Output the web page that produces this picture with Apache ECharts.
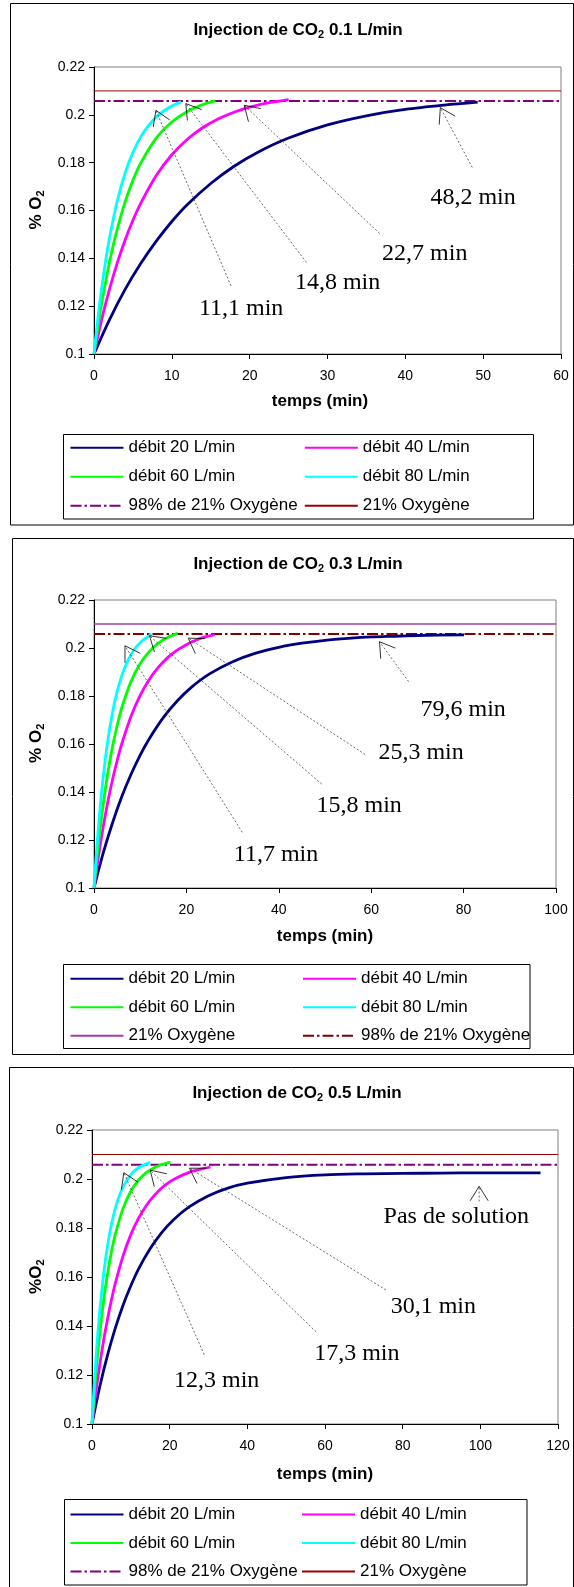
<!DOCTYPE html>
<html>
<head>
<meta charset="utf-8">
<script src="https://cdn.jsdelivr.net/npm/echarts@6/dist/echarts.min.js"></script>
<style>
  html, body { margin: 0; padding: 0; background: #fff; }
  .panel { position: absolute; left: 0; width: 574px; }
</style>
</head>
<body>
<div id="c1" class="panel" style="top:0;height:530px"></div>
<div id="c2" class="panel" style="top:530px;height:530px"></div>
<div id="c3" class="panel" style="top:1060px;height:527px"></div>
<script>
// ---------- data: O2 fraction vs time (min) ----------
// CO2 injection 0.1 L/min
const time20_a = [0, 2, 4, 6, 8, 10, 12, 15, 18, 21, 25, 30, 35, 40, 45, 49.3];
const o2_20_a  = [0.1, 0.1144, 0.127, 0.1378, 0.1472, 0.1554, 0.1625, 0.1713, 0.1785, 0.1843, 0.1903, 0.1958, 0.1996, 0.2023, 0.2041, 0.2053];
const time40_a = [0, 1, 2, 3, 4, 5, 6, 8, 10, 12, 14, 16, 18, 20, 22, 25];
const o2_40_a  = [0.1, 0.1146, 0.1272, 0.1382, 0.1477, 0.1559, 0.163, 0.1746, 0.1833, 0.1898, 0.1947, 0.1984, 0.2011, 0.2032, 0.2048, 0.2064];
const time60_a = [0, 0.5, 1, 2, 3, 4, 5, 6, 8, 10, 12, 14, 15.6];
const o2_60_a  = [0.1, 0.1113, 0.1214, 0.1386, 0.1524, 0.1636, 0.1726, 0.1798, 0.1903, 0.197, 0.2014, 0.2043, 0.2058];
const time80_a = [0, 0.5, 1, 1.5, 2, 3, 4, 5, 6, 7, 8, 9, 10, 11.2];
const o2_80_a  = [0.1, 0.115, 0.1279, 0.1391, 0.1487, 0.1642, 0.1757, 0.1843, 0.1908, 0.1955, 0.1991, 0.2017, 0.2037, 0.2054];

// CO2 injection 0.3 L/min
const time20_b = [0, 2, 4, 6, 8, 10, 12, 15, 18, 21, 25, 30, 35, 40, 45, 50, 55, 60, 65, 70, 80.1];
const o2_20_b  = [0.1, 0.1146, 0.1271, 0.138, 0.1473, 0.1554, 0.1623, 0.171, 0.1779, 0.1835, 0.1892, 0.1943, 0.1979, 0.2003, 0.202, 0.2032, 0.204, 0.2046, 0.2049, 0.2052, 0.2055];
const time40_b = [0, 1, 2, 3, 4, 5, 6, 8, 10, 12, 14, 16, 18, 20, 22, 24, 26.1];
const o2_40_b  = [0.1, 0.1136, 0.1255, 0.1359, 0.1451, 0.153, 0.16, 0.1715, 0.1803, 0.187, 0.1921, 0.1961, 0.1991, 0.2014, 0.2032, 0.2046, 0.2056];
const time60_b = [0, 0.5, 1, 2, 3, 4, 5, 6, 8, 10, 12, 14, 16, 18.1];
const o2_60_b  = [0.1, 0.11, 0.1192, 0.135, 0.148, 0.1588, 0.1676, 0.175, 0.186, 0.1935, 0.1986, 0.2021, 0.2045, 0.2061];
const time80_b = [0, 0.5, 1, 1.5, 2, 3, 4, 5, 6, 7, 8, 9, 10, 11, 12.5];
const o2_80_b  = [0.1, 0.1141, 0.1264, 0.1371, 0.1465, 0.1616, 0.1731, 0.1818, 0.1884, 0.1934, 0.1972, 0.2001, 0.2022, 0.2039, 0.2058];

// CO2 injection 0.5 L/min
const time20_c = [0, 2, 4, 6, 8, 10, 12, 15, 18, 21, 25, 30, 35, 40, 50, 60, 70, 80, 90, 100, 115.5];
const o2_20_c  = [0.1, 0.1152, 0.1281, 0.1391, 0.1485, 0.1564, 0.1633, 0.1716, 0.1782, 0.1834, 0.1886, 0.1932, 0.1963, 0.1983, 0.2006, 0.2017, 0.2021, 0.2023, 0.2024, 0.2025, 0.2025];
const time40_c = [0, 1, 2, 3, 4, 5, 6, 8, 10, 12, 14, 16, 18, 20, 22, 25, 28, 30.5];
const o2_40_c  = [0.1, 0.1129, 0.1242, 0.1342, 0.1429, 0.1506, 0.1574, 0.1686, 0.1773, 0.184, 0.1892, 0.1932, 0.1964, 0.1988, 0.2006, 0.2027, 0.204, 0.2049];
const time60_c = [0, 0.5, 1, 2, 3, 4, 5, 6, 8, 10, 12, 14, 16, 18, 20.2];
const o2_60_c  = [0.1, 0.1107, 0.1204, 0.137, 0.1504, 0.1613, 0.1702, 0.1774, 0.188, 0.195, 0.1996, 0.2026, 0.2046, 0.2059, 0.2069];
const time80_c = [0, 0.5, 1, 1.5, 2, 3, 4, 5, 6, 7, 8, 10, 12, 15];
const o2_80_c  = [0.1, 0.1141, 0.1263, 0.137, 0.1462, 0.1613, 0.1728, 0.1814, 0.188, 0.193, 0.1967, 0.2018, 0.2046, 0.2068];

// reference levels
const airO2 = 0.21;
const target98 = 0.2058;

// axis ticks
const yTicks = [0.1, 0.22, 0.02];
const xMax_a = 60, xStep_a = 10;
const xMax_b = 100, xStep_b = 20;
const xMax_c = 120, xStep_c = 20;

// annotations: text, text anchor, leader start, arrow tip (data units)
const notes_a = ['11,1 min', '14,8 min', '22,7 min', '48,2 min'];
const noteAt_a = [[18.9, 0.1188], [31.3, 0.130], [42.5, 0.1418], [48.7, 0.1654]];
const leadFrom_a = [[17.6, 0.1285], [27.3, 0.1383], [36.7, 0.1504], [48.6, 0.178]];
const leadTo_a = [[7.95, 0.2019], [11.8, 0.2047], [19.3, 0.204], [44.5, 0.203]];

const notes_b = ['11,7 min', '15,8 min', '25,3 min', '79,6 min'];
const noteAt_b = [[39.4, 0.114], [57.4, 0.1343], [70.8, 0.1562], [79.9, 0.1744]];
const leadFrom_b = [[32.1, 0.1232], [49.3, 0.1433], [58.7, 0.1556], [68.1, 0.186]];
const leadTo_b = [[6.7, 0.2009], [12, 0.2051], [20.4, 0.2041], [61.8, 0.2026]];

const notes_c = ['12,3 min', '17,3 min', '30,1 min', 'Pas de solution'];
const noteAt_c = [[32.1, 0.1178], [68.2, 0.1288], [87.9, 0.1479], [93.8, 0.1847]];
const leadFrom_c = [[28.9, 0.1283], [57.7, 0.1376], [75.7, 0.1547], [99.7, 0.1908]];
const leadTo_c = [[8.2, 0.2026], [15, 0.2036], [25.1, 0.2044], [99.7, 0.197]];

// ---------- drawing ----------
const SANS = '"Liberation Sans", Arial, Helvetica, sans-serif';
const SERIF = '"Liberation Serif", "Times New Roman", serif';
const NAVY = '#000080', MAGENTA = '#FF00FF', LIME = '#00FF00', CYAN = '#00FFFF';

const pair = (xs, ys) => xs.map((x, i) => [x, ys[i]]);

function curve(name, color, xs, ys) {
  return {
    name, type: 'line', data: pair(xs, ys), showSymbol: false, symbol: 'none',
    smooth: 0.3,
    lineStyle: { color, width: 2.8 }, itemStyle: { color }, z: 3
  };
}
function level(name, color, value, xEnd, width, dash) {
  return {
    name, type: 'line', data: [[0, value], [xEnd, value]], showSymbol: false, symbol: 'none',
    lineStyle: { color, width, type: dash || 'solid' }, itemStyle: { color }, z: 2, clip: false
  };
}

function noteRenderer(texts) {
  return function (params, api) {
    const i = params.dataIndex;
    const at = api.coord([api.value(0), api.value(1)]);
    const from = api.coord([api.value(2), api.value(3)]);
    const tip = api.coord([api.value(4), api.value(5)]);
    const dx = from[0] - tip[0], dy = from[1] - tip[1];
    const len = Math.hypot(dx, dy) || 1;
    const ux = dx / len, uy = dy / len;
    const ang = 32 * Math.PI / 180, L = 17;
    const arm = s => [
      tip[0] + L * (ux * Math.cos(s * ang) - uy * Math.sin(s * ang)),
      tip[1] + L * (ux * Math.sin(s * ang) + uy * Math.cos(s * ang))
    ];
    return {
      type: 'group',
      children: [
        { type: 'line', shape: { x1: from[0], y1: from[1], x2: tip[0], y2: tip[1] },
          style: { stroke: '#444', lineWidth: 0.8, lineDash: [2, 2] } },
        { type: 'polyline', shape: { points: [arm(1), tip, arm(-1)] },
          style: { stroke: '#000', lineWidth: 0.8, fill: 'none' } },
        { type: 'text', x: at[0], y: at[1],
          style: { text: texts[i], font: '24px ' + SERIF, fill: '#000', align: 'center', verticalAlign: 'middle' } }
      ]
    };
  };
}

function notesSeries(texts, at, from, to) {
  return {
    type: 'custom', coordinateSystem: 'cartesian2d', silent: true, clip: false, z: 5,
    data: at.map((p, i) => [p[0], p[1], from[i][0], from[i][1], to[i][0], to[i][1]]),
    renderItem: noteRenderer(texts)
  };
}

const subRich = {
  b: { fontFamily: SANS, fontSize: 17, fontWeight: 'bold', fill: '#000', lineHeight: 20 },
  s: { fontFamily: SANS, fontSize: 11, fontWeight: 'bold', fill: '#000', lineHeight: 10, verticalAlign: 'bottom' }
};

function buildOption(p) {
  const legendText = { fontFamily: SANS, fontSize: 17, color: '#000', lineHeight: 16 };
  const legendBase = {
    orient: 'vertical', itemWidth: 53, itemHeight: 14, itemGap: p.rowGap, padding: 0,
    selectedMode: false, textStyle: legendText, top: p.legendTop,
    itemStyle: { opacity: 0 }
  };
  return {
    animation: false,
    backgroundColor: '#fff',
    grid: { left: p.grid[0], top: p.grid[1], width: p.grid[2], height: p.grid[3],
            show: true, borderColor: '#808080', borderWidth: 1, backgroundColor: '#fff', containLabel: false },
    xAxis: {
      type: 'value', min: 0, max: p.xMax, interval: p.xStep,
      axisLine: { show: true, onZero: false, lineStyle: { color: '#000', width: 1 } },
      axisTick: { show: true, length: 5, lineStyle: { color: '#000' } },
      axisLabel: { fontFamily: SANS, fontSize: 14, color: '#000', margin: 15 },
      splitLine: { show: false }
    },
    yAxis: {
      type: 'value', min: yTicks[0], max: yTicks[1], interval: yTicks[2],
      axisLine: { show: true, onZero: false, lineStyle: { color: '#000', width: 1 } },
      axisTick: { show: true, length: 5, lineStyle: { color: '#000' } },
      axisLabel: { fontFamily: SANS, fontSize: 14, color: '#000', margin: 9,
                   formatter: v => String(Math.round(v * 100) / 100) },
      splitLine: { show: false }
    },
    legend: [
      Object.assign({}, legendBase, { left: p.legendCols[0], data: p.legendLeft }),
      Object.assign({}, legendBase, { left: p.legendCols[1], data: p.legendRight })
    ],
    graphic: [
      { type: 'rect', z: -10, shape: p.frame, style: { fill: 'none', stroke: '#000', lineWidth: 1 } },
      { type: 'rect', z: -5, shape: p.legendBox, style: { fill: '#fff', stroke: '#000', lineWidth: 1 } },
      { type: 'text', x: p.titleAt[0], y: p.titleAt[1],
        style: { text: '{b|Injection de CO}{s|2}{b| ' + p.rate + ' L/min}', rich: subRich, align: 'center', verticalAlign: 'middle' } },
      { type: 'text', x: p.xNameAt[0], y: p.xNameAt[1],
        style: { text: 'temps (min)', font: 'bold 17px ' + SANS, fill: '#000', align: 'center', verticalAlign: 'middle' } },
      { type: 'text', x: p.yNameAt[0], y: p.yNameAt[1], rotation: Math.PI / 2,
        style: { text: '{b|' + p.yName + '}{s|2}', rich: subRich, align: 'center', verticalAlign: 'middle' } }
    ],
    series: p.series
  };
}

const charts = [
  {
    el: 'c1', rate: '0.1', yName: '% O', xMax: xMax_a, xStep: xStep_a,
    grid: [94, 67, 467, 287], frame: { x: 10.5, y: 3.5, width: 563, height: 521.5 },
    legendBox: { x: 63.5, y: 434.5, width: 470, height: 84.5 }, legendTop: 439.3, rowGap: 12,
    legendCols: [69.5, 303.8], titleAt: [298, 30.7], xNameAt: [320, 401.7], yNameAt: [36.6, 210],
    legendLeft: ['débit 20 L/min', 'débit 60 L/min', '98% de 21% Oxygène'],
    legendRight: ['débit 40 L/min', 'débit 80 L/min', '21% Oxygène'],
    series: [
      curve('débit 20 L/min', NAVY, time20_a, o2_20_a),
      curve('débit 40 L/min', MAGENTA, time40_a, o2_40_a),
      curve('débit 60 L/min', LIME, time60_a, o2_60_a),
      curve('débit 80 L/min', CYAN, time80_a, o2_80_a),
      level('98% de 21% Oxygène', '#800080', target98, xMax_a, 2, [11, 3, 2.5, 3]),
      level('21% Oxygène', '#990000', airO2, xMax_a, 1),
      notesSeries(notes_a, noteAt_a, leadFrom_a, leadTo_a)
    ]
  },
  {
    el: 'c2', rate: '0.3', yName: '% O', xMax: xMax_b, xStep: xStep_b,
    grid: [94, 70, 462, 288], frame: { x: 12.5, y: 8.5, width: 561, height: 516 },
    legendBox: { x: 63.5, y: 434.5, width: 466.5, height: 84 }, legendTop: 440.3, rowGap: 11.5,
    legendCols: [69.5, 302], titleAt: [298, 34.3], xNameAt: [325, 406.7], yNameAt: [36.6, 213.3],
    legendLeft: ['débit 20 L/min', 'débit 60 L/min', '21% Oxygène'],
    legendRight: ['débit 40 L/min', 'débit 80 L/min', '98% de 21% Oxygène'],
    series: [
      curve('débit 20 L/min', NAVY, time20_b, o2_20_b),
      curve('débit 40 L/min', MAGENTA, time40_b, o2_40_b),
      curve('débit 60 L/min', LIME, time60_b, o2_60_b),
      curve('débit 80 L/min', CYAN, time80_b, o2_80_b),
      level('21% Oxygène', '#A040A0', airO2, xMax_b, 1.3),
      level('98% de 21% Oxygène', '#800000', target98, xMax_b, 2, [11, 3, 2.5, 3]),
      notesSeries(notes_b, noteAt_b, leadFrom_b, leadTo_b)
    ]
  },
  {
    el: 'c3', rate: '0.5', yName: '%O', xMax: xMax_c, xStep: xStep_c,
    grid: [92, 70, 466, 294], frame: { x: 9.5, y: 7.5, width: 564, height: 530 },
    legendBox: { x: 64.5, y: 439.5, width: 462.5, height: 85.5 }, legendTop: 446, rowGap: 11.5,
    legendCols: [69.5, 301], titleAt: [297, 33.3], xNameAt: [325, 414], yNameAt: [36.6, 216.7],
    legendLeft: ['débit 20 L/min', 'débit 60 L/min', '98% de 21% Oxygène'],
    legendRight: ['débit 40 L/min', 'débit 80 L/min', '21% Oxygène'],
    series: [
      curve('débit 20 L/min', NAVY, time20_c, o2_20_c),
      curve('débit 40 L/min', MAGENTA, time40_c, o2_40_c),
      curve('débit 60 L/min', LIME, time60_c, o2_60_c),
      curve('débit 80 L/min', CYAN, time80_c, o2_80_c),
      level('98% de 21% Oxygène', '#800080', target98, xMax_c, 2, [11, 3, 2.5, 3]),
      level('21% Oxygène', '#990000', airO2, xMax_c, 1),
      notesSeries(notes_c, noteAt_c, leadFrom_c, leadTo_c)
    ]
  }
];

charts.forEach(p => {
  const chart = echarts.init(document.getElementById(p.el), null, { renderer: 'canvas' });
  chart.setOption(buildOption(p));
});
</script>
</body>
</html>
